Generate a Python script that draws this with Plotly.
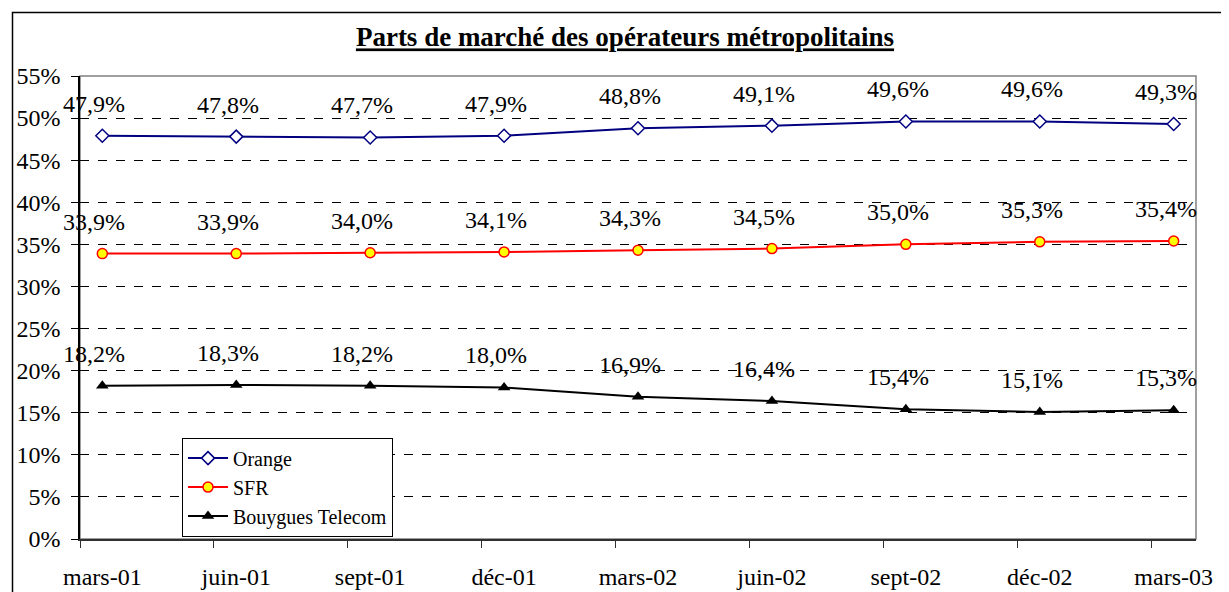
import plotly.graph_objects as go

categories = ["mars-01", "juin-01", "sept-01", "déc-01", "mars-02",
              "juin-02", "sept-02", "déc-02", "mars-03"]
orange = [47.9, 47.8, 47.7, 47.9, 48.8, 49.1, 49.6, 49.6, 49.3]
sfr = [33.9, 33.9, 34.0, 34.1, 34.3, 34.5, 35.0, 35.3, 35.4]
bouygues = [18.2, 18.3, 18.2, 18.0, 16.9, 16.4, 15.4, 15.1, 15.3]
y_ticks = [0, 5, 10, 15, 20, 25, 30, 35, 40, 45, 50, 55]

# date-like axis: one slot per month, points centred in the month slot
months_per_cat = 3
xpos = [i * months_per_cat + 0.5 for i in range(len(categories))]
tick_marks = [i * months_per_cat for i in range(len(categories))]
n_months = (len(categories) - 1) * months_per_cat + 1

FONT = "Liberation Serif, Times New Roman, serif"

# page body has an 8px default margin; figure sized to fit the window
W, H = 1221, 584
L, T = 72, 68
PW, PH = 1116, 463.5


def fmt(v):
    return f"{v:.1f}".replace(".", ",") + "%"


fig = go.Figure()
series = [
    ("Orange", orange, dict(color="#000080", width=2),
     dict(symbol="diamond", size=10, color="white", line=dict(color="#000080", width=1.5))),
    ("SFR", sfr, dict(color="#FF0000", width=2),
     dict(symbol="circle", size=10, color="#FFFF00", line=dict(color="#FF0000", width=1.5))),
    ("Bouygues Telecom", bouygues, dict(color="#000000", width=2),
     dict(symbol="triangle-up", size=11, color="#000000", line=dict(color="#000000", width=0))),
]
for name, vals, line, marker in series:
    fig.add_trace(go.Scatter(
        x=xpos, y=[v / 100 for v in vals], name=name, mode="lines+markers",
        line=line, marker=marker, cliponaxis=False,
    ))
    for xv, v in zip(xpos, vals):
        fig.add_annotation(x=xv, y=v / 100, text=fmt(v), showarrow=False,
                           yshift=32, xshift=-8, yanchor="middle", xanchor="center",
                           font=dict(family=FONT, size=24, color="black"))

# invisible trace on overlay axis to carry tick marks between categories
fig.add_trace(go.Scatter(x=tick_marks, y=[None] * len(tick_marks), xaxis="x2",
                         showlegend=False, hoverinfo="skip"))

fig.update_layout(
    width=W, height=H,
    paper_bgcolor="white", plot_bgcolor="white",
    margin=dict(l=L, r=W - L - PW, t=T, b=H - T - PH, autoexpand=False),
    font=dict(family=FONT, size=24, color="black"),
    title=dict(text="<b><u>Parts de marché des opérateurs métropolitains</u></b>",
               x=617 / W, xref="container", xanchor="center",
               y=1 - 29 / H, yref="container", yanchor="middle",
               font=dict(family=FONT, size=27, color="black")),
    xaxis=dict(range=[0, n_months], tickvals=xpos, ticktext=categories,
               showgrid=False, zeroline=False, ticks="", ticklabelstandoff=15,
               showline=True, linecolor="#303030", linewidth=2, automargin=False,
               tickfont=dict(family=FONT, size=24, color="black")),
    xaxis2=dict(range=[0, n_months], overlaying="x", side="bottom",
                tickvals=tick_marks, showticklabels=False, ticks="outside",
                ticklen=8, tickcolor="#303030", tickwidth=1, showgrid=False,
                zeroline=False, showline=False, automargin=False),
    yaxis=dict(range=[0, 0.55], tickvals=[t / 100 for t in y_ticks],
               ticktext=[f"{t}%" for t in y_ticks],
               showgrid=True, gridcolor="black", griddash="dash", gridwidth=1,
               zeroline=False, showline=True, linecolor="black", linewidth=1.5,
               ticks="outside", ticklen=7, tickcolor="black", automargin=False,
               ticklabelstandoff=6,
               tickfont=dict(family=FONT, size=24, color="black")),
    legend=dict(x=(174 - L) / PW, y=(PH + T - 430) / PH, xanchor="left", yanchor="top",
                bgcolor="white", bordercolor="black", borderwidth=1,
                font=dict(family=FONT, size=20, color="black"),
                tracegroupgap=0, itemwidth=40),
    showlegend=True,
)

# plot-area frame (gray top/right) and outer chart border
fig.add_shape(type="rect", xref="paper", yref="paper", x0=0, x1=1, y0=0, y1=1,
              line=dict(color="#808080", width=1.5), layer="between")
fig.add_shape(type="rect", xref="paper", yref="paper",
              x0=(4.5 - L) / PW, x1=(W + 20 - L) / PW,
              y0=-0.2, y1=(PH + T - 4.5) / PH,
              line=dict(color="black", width=1.5), layer="below")

fig.write_html("out.html")
